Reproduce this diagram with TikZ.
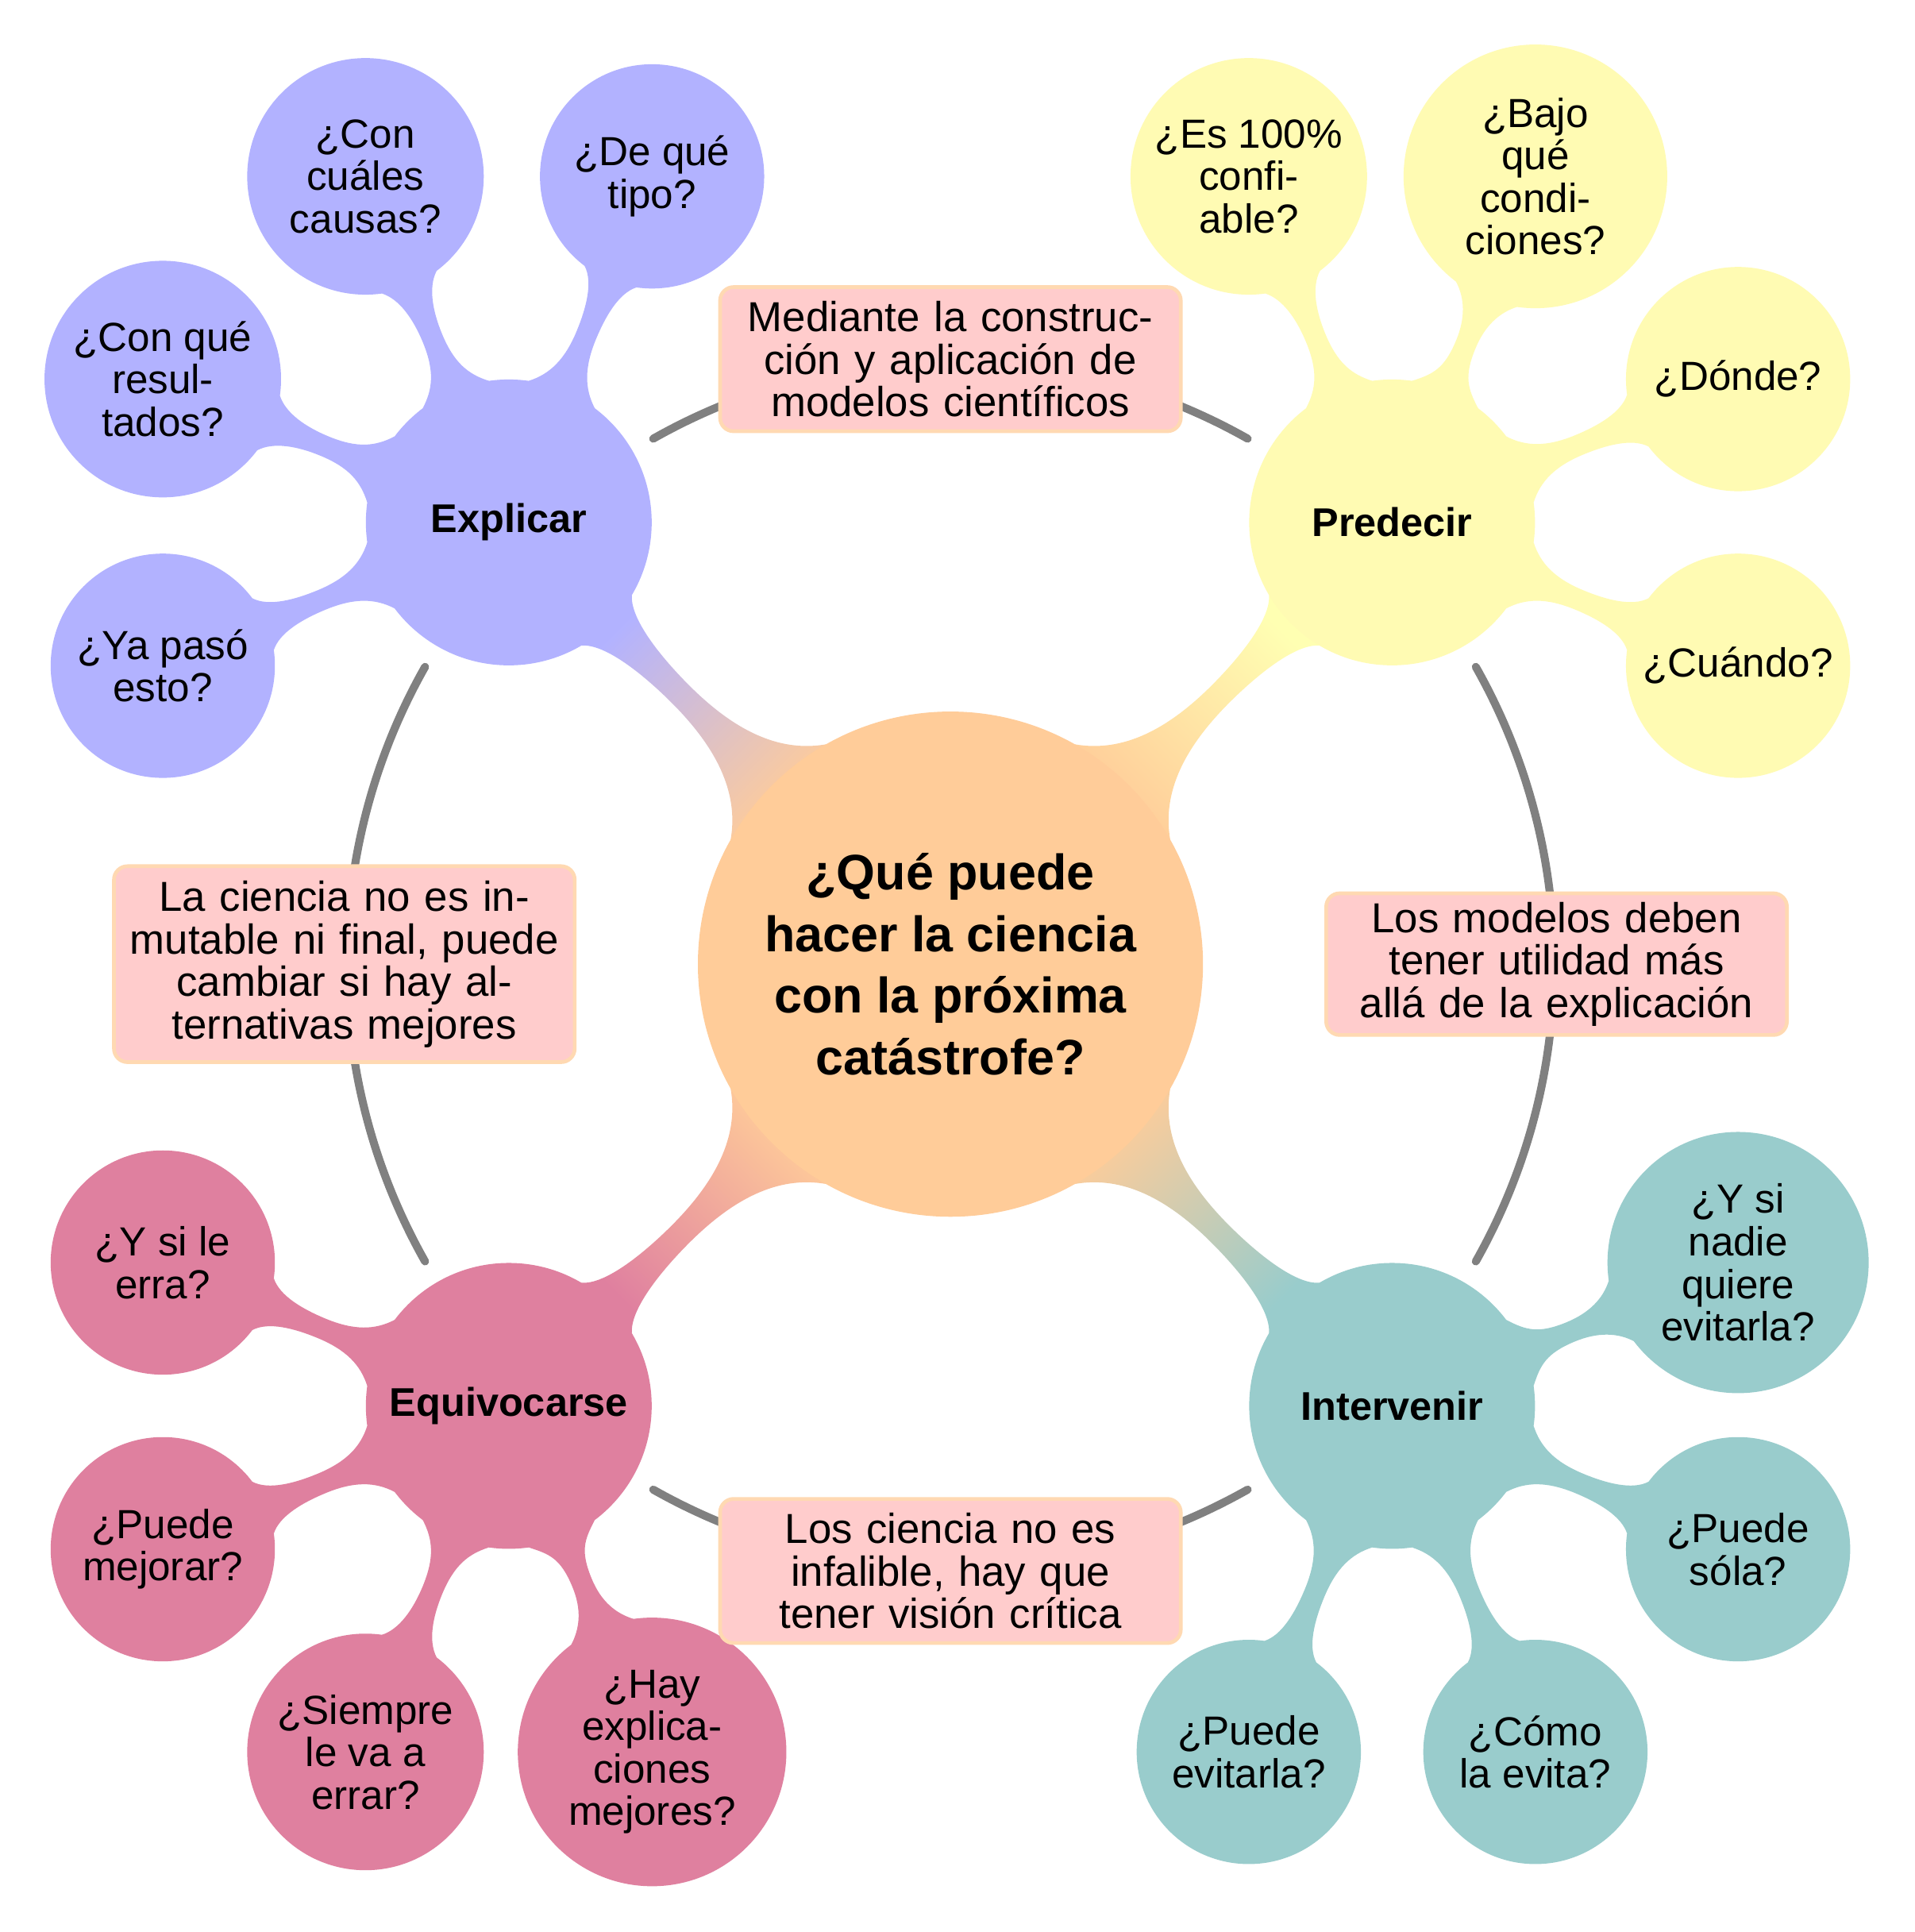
\documentclass[tikz,border=0pt]{standalone}
\usepackage{fontspec}
\setmainfont{Liberation Sans}
\usetikzlibrary{calc}
\pgfdeclarelayer{back}
\pgfdeclarelayer{bg}
\pgfsetlayers{back,bg,main}

\colorlet{cRoot}{orange!40}
\colorlet{cExp}{blue!30}
\colorlet{cPre}{yellow!30}
\colorlet{cInt}{teal!40}
\colorlet{cEqu}{purple!50}
\colorlet{cRing}{black!50}
\colorlet{cAnnFill}{red!20}
\colorlet{cAnnDraw}{orange!30}

% neck shape parameters (second level)
\def\nkAP{14.5}\def\nkAC{14.5}\def\nkF{0.5}\def\nkW{8.5}
\def\nkCA{50}\def\nkTA{18}\def\nkSA{25}\def\nkSB{20}\def\nkCB{50}\def\nkTB{15}

% #1 parent, #2 child, #3 angle, #4 parent radius, #5 child radius, #6 distance, #7 options
\newcommand\neck[7]{%
  \pgfmathsetmacro\nkM{#4+\nkF*(#6-#4-#5)}%
  \coordinate (nA1) at ($(#1.center)+(#3+\nkAP:#4)$);
  \coordinate (nA2) at ($(#1.center)+(#3-\nkAP:#4)$);
  \coordinate (nN1) at ($(#1.center)+(#3:\nkM)+(#3+90:\nkW)$);
  \coordinate (nN2) at ($(#1.center)+(#3:\nkM)+(#3-90:\nkW)$);
  \coordinate (nB1) at ($(#2.center)+(#3+180-\nkAC:#5)$);
  \coordinate (nB2) at ($(#2.center)+(#3+180+\nkAC:#5)$);
  \path[#7] (nA1)
    .. controls ($(nA1)+(#3-\nkCA:\nkTA)$) and ($(nN1)+(#3+180:\nkSA)$) .. (nN1)
    .. controls ($(nN1)+(#3:\nkSB)$) and ($(nB1)+(#3+180+\nkCB:\nkTB)$) .. (nB1)
    -- (nB2)
    .. controls ($(nB2)+(#3+180-\nkCB:\nkTB)$) and ($(nN2)+(#3:\nkSB)$) .. (nN2)
    .. controls ($(nN2)+(#3+180:\nkSA)$) and ($(nA2)+(#3+\nkCA:\nkTA)$) .. (nA2)
    -- cycle;
}

\tikzset{
  rootnode/.style={circle, fill=cRoot, minimum size=410pt, inner sep=0pt, align=center,
    font=\fontsize{40.5}{50}\selectfont\bfseries},
  lvlone/.style={circle, minimum size=232pt, inner sep=0pt, align=center,
    font=\fontsize{32.5}{36}\selectfont\bfseries},
  lvltwo/.style={circle, minimum size=182pt, inner sep=0pt, align=center,
    font=\fontsize{33}{34.5}\selectfont},
  ann/.style={rectangle, rounded corners=11pt, fill=cAnnFill, draw=cAnnDraw, line width=3pt,
    minimum width=374pt, text width=350pt, inner xsep=5pt, align=center,
    font=\fontsize{34}{34.5}\selectfont},
  ringline/.style={draw=cRing, line width=6.5pt, line cap=round},
}

\begin{document}
\begin{tikzpicture}[x=1pt, y=1pt]
\begin{pgfonlayer}{back}
\fill[white] (-771.5,-785.5) rectangle (782.5,782.5);
\end{pgfonlayer}
\useasboundingbox (-771.5,-785.5) rectangle (782.5,782.5);

% central and first level concepts
\node[rootnode] (root) at (0,0) {¿Qué puede\\hacer la ciencia\\con la próxima\\catástrofe?};
\node[lvlone, fill=cExp] (exp) at (135:507) {Explicar};
\node[lvlone, fill=cPre] (pre) at (45:507) {Predecir};
\node[lvlone, fill=cInt] (int) at (-45:507) {Intervenir};
\node[lvlone, fill=cEqu] (equ) at (-135:507) {Equivocarse};

% Explicar
\node[lvltwo, fill=cExp, minimum size=192pt] (e1) at ($(exp)+(112.5:304)$) {¿Con\\cuáles\\causas?};
\node[lvltwo, fill=cExp] (e2) at ($(exp)+(67.5:304)$) {¿De qué\\tipo?};
\node[lvltwo, fill=cExp, minimum size=192pt] (e3) at ($(exp)+(157.5:304)$) {¿Con qué\\resul-\\tados?};
\node[lvltwo, fill=cExp] (e4) at ($(exp)+(202.5:304)$) {¿Ya pasó\\esto?};

% Predecir
\node[lvltwo, fill=cPre, minimum size=192pt] (p1) at ($(pre)+(112.5:304)$) {¿Es 100\%\\confi-\\able?};
\node[lvltwo, fill=cPre, minimum size=214pt] (p2) at ($(pre)+(67.5:304)$) {¿Bajo\\qué\\condi-\\ciones?};
\node[lvltwo, fill=cPre] (p3) at ($(pre)+(22.5:304)$) {¿Dónde?};
\node[lvltwo, fill=cPre] (p4) at ($(pre)+(-22.5:304)$) {¿Cuándo?};

% Intervenir
\node[lvltwo, fill=cInt, minimum size=212pt] (i1) at ($(int)+(22.5:304)$) {¿Y si\\nadie\\quiere\\evitarla?};
\node[lvltwo, fill=cInt] (i2) at ($(int)+(-22.5:304)$) {¿Puede\\sóla?};
\node[lvltwo, fill=cInt] (i3) at ($(int)+(-67.5:304)$) {¿Cómo\\la evita?};
\node[lvltwo, fill=cInt] (i4) at ($(int)+(-112.5:304)$) {¿Puede\\evitarla?};

% Equivocarse
\node[lvltwo, fill=cEqu] (q1) at ($(equ)+(157.5:304)$) {¿Y si le\\erra?};
\node[lvltwo, fill=cEqu] (q2) at ($(equ)+(202.5:304)$) {¿Puede\\mejorar?};
\node[lvltwo, fill=cEqu, minimum size=192pt] (q3) at ($(equ)+(247.5:304)$) {¿Siempre\\le va a\\errar?};
\node[lvltwo, fill=cEqu, minimum size=218pt] (q4) at ($(equ)+(292.5:304)$) {¿Hay\\explica-\\ciones\\mejores?};

\begin{pgfonlayer}{bg}
  % second level connections
  \neck{exp}{e1}{112.5}{116}{96}{304}{fill=cExp}
  \neck{exp}{e2}{67.5}{116}{91}{304}{fill=cExp}
  \neck{exp}{e3}{157.5}{116}{96}{304}{fill=cExp}
  \neck{exp}{e4}{202.5}{116}{91}{304}{fill=cExp}
  \neck{pre}{p1}{112.5}{116}{96}{304}{fill=cPre}
  \neck{pre}{p2}{67.5}{116}{107}{304}{fill=cPre}
  \neck{pre}{p3}{22.5}{116}{91}{304}{fill=cPre}
  \neck{pre}{p4}{-22.5}{116}{91}{304}{fill=cPre}
  \neck{int}{i1}{22.5}{116}{106}{304}{fill=cInt}
  \neck{int}{i2}{-22.5}{116}{91}{304}{fill=cInt}
  \neck{int}{i3}{-67.5}{116}{91}{304}{fill=cInt}
  \neck{int}{i4}{-112.5}{116}{91}{304}{fill=cInt}
  \neck{equ}{q1}{157.5}{116}{91}{304}{fill=cEqu}
  \neck{equ}{q2}{202.5}{116}{91}{304}{fill=cEqu}
  \neck{equ}{q3}{247.5}{116}{96}{304}{fill=cEqu}
  \neck{equ}{q4}{292.5}{116}{109}{304}{fill=cEqu}
  % first level connections
  \def\nkAP{15.5}\def\nkAC{14.5}\def\nkF{0.565}\def\nkW{10}
  \def\nkCA{55}\def\nkTA{40}\def\nkSA{50}\def\nkSB{30}\def\nkCB{50}\def\nkTB{20}
  \neck{root}{exp}{135}{205}{116}{507}{shade, top color=cExp, bottom color=cRoot, shading angle=45}
  \neck{root}{pre}{45}{205}{116}{507}{shade, top color=cPre, bottom color=cRoot, shading angle=-45}
  \neck{root}{int}{-45}{205}{116}{507}{shade, top color=cInt, bottom color=cRoot, shading angle=-135}
  \neck{root}{equ}{-135}{205}{116}{507}{shade, top color=cEqu, bottom color=cRoot, shading angle=135}
\end{pgfonlayer}

% ring arcs between the first level concepts
\draw[ringline] ([shift={(119.5:490)}]root.center) arc[start angle=119.5, end angle=60.5, radius=490];
\draw[ringline] ([shift={(150.5:490)}]root.center) arc[start angle=150.5, end angle=209.5, radius=490];
\draw[ringline] ([shift={(240.5:490)}]root.center) arc[start angle=240.5, end angle=299.5, radius=490];
\draw[ringline] ([shift={(-29.5:490)}]root.center) arc[start angle=-29.5, end angle=29.5, radius=490];

% annotations
\node[ann, minimum height=117pt] (a1) at (90:491) {Mediante la construc-\\ción y aplicación de\\modelos científicos};
\node[ann, minimum height=159pt] (a2) at (180:492) {La ciencia no es in-\\mutable ni final, puede\\cambiar si hay al-\\ternativas mejores};
\node[ann, minimum height=115pt] (a3) at (0:492) {Los modelos deben\\tener utilidad más\\allá de la explicación};
\node[ann, minimum height=117pt] (a4) at (-90:492.5) {Los ciencia no es\\infalible, hay que\\tener visión crítica};
\end{tikzpicture}
\end{document}
